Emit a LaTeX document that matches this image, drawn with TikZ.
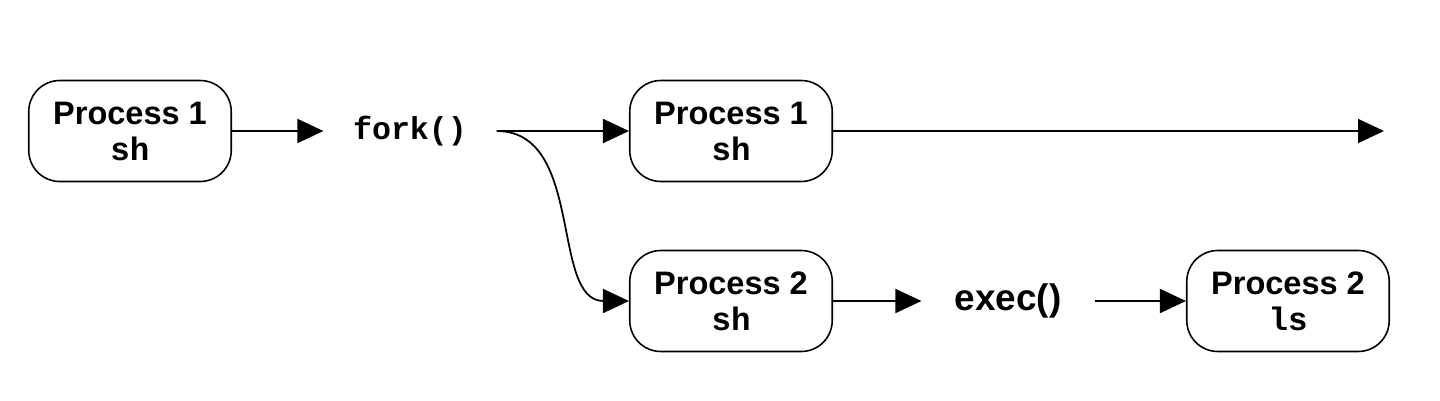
\documentclass[tikz,border=0pt]{standalone}
\usepackage{fontspec}
\setmainfont{Liberation Sans}
\setmonofont{Liberation Mono}
\usetikzlibrary{arrows.meta, positioning}

\begin{document}
\begin{tikzpicture}[
  x=0.02cm, y=-0.02cm,
  proc/.style={draw, line width=0.9pt, rounded corners=0.62cm, align=center, minimum width=4.05cm, minimum height=2.02cm, inner sep=2pt, font=\fontsize{18.5}{20.5}\selectfont\bfseries},
  call/.style={minimum width=3.45cm, inner sep=0pt, font=\fontsize{18}{20}\selectfont\bfseries},
  flow/.style={-{Triangle[length=0.52cm, width=0.48cm]}, line width=1pt}
]
  \useasboundingbox (0,0) rectangle (1440,400);

  \node[proc] (shone) at (130, 131) {Process 1\\\texttt{sh}};
  \node[call, font=\fontsize{18}{20}\selectfont\ttfamily\bfseries] (fork) at (410, 131) {fork()};
  \node[proc] (shparent) at (731, 131) {Process 1\\\texttt{sh}};
  \node[proc] (shchild) at (731, 301) {Process 2\\\texttt{sh}};
  \node[call, font=\fontsize{21}{23}\selectfont\bfseries] (exec) at (1008, 301) {exec()};
  \node[proc] (lschild) at (1288, 301) {Process 2\\\texttt{ls}};
  \coordinate (goon) at (1384, 131);

  \draw[flow] (shone) -- (fork);
  \draw[flow] (fork.east) -- (shparent.west);
  \draw[flow] (fork.east) .. controls (585, 131) and (550, 301) .. (shchild.west);
  \draw[flow] (shparent) -- (goon);
  \draw[flow] (shchild) -- (exec);
  \draw[flow] (exec) -- (lschild);
\end{tikzpicture}
\end{document}
